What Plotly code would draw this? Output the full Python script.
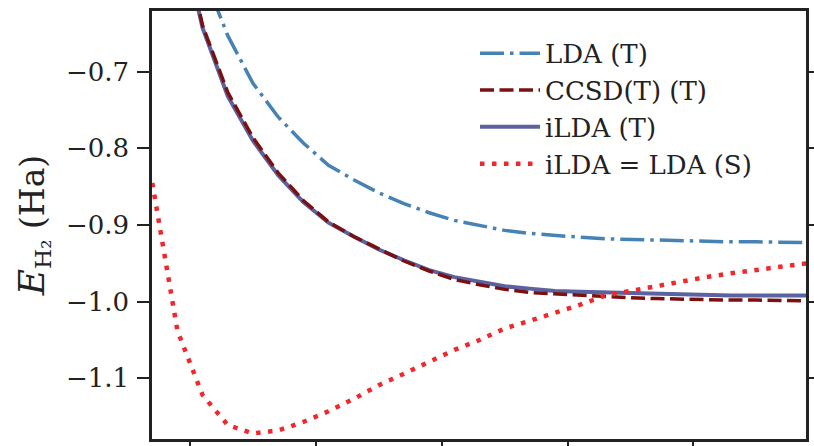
import plotly.graph_objects as go

# Shared bond-length grid (x axis, tick labels not visible in the reference)
r_grid = [0.7, 0.9, 1.1, 1.3, 1.5, 1.7, 1.9, 2.1, 2.3, 2.5, 2.7, 2.9, 3.1, 3.3,
          3.5, 3.7, 3.9, 4.1, 4.3, 4.5, 4.7, 4.9, 5.1, 5.3, 5.5, 5.7, 5.9]

lda_t = [-0.25, -0.45, -0.570, -0.653, -0.715, -0.759, -0.793, -0.822, -0.841,
         -0.858, -0.872, -0.884, -0.894, -0.901, -0.907, -0.911, -0.914, -0.916,
         -0.918, -0.919, -0.920, -0.921, -0.921, -0.922, -0.922, -0.923, -0.923]

ccsd_t = [-0.30, -0.49, -0.640, -0.727, -0.786, -0.832, -0.868, -0.896, -0.915,
          -0.931, -0.947, -0.960, -0.971, -0.978, -0.984, -0.988, -0.990, -0.992,
          -0.994, -0.995, -0.996, -0.997, -0.997, -0.998, -0.998, -0.999, -0.999]

ilda_t = [-0.30, -0.50, -0.643, -0.732, -0.790, -0.835, -0.870, -0.897, -0.915,
          -0.932, -0.946, -0.959, -0.968, -0.974, -0.980, -0.983, -0.986, -0.987,
          -0.988, -0.989, -0.990, -0.991, -0.9915, -0.992, -0.992, -0.992, -0.992]

ilda_lda_s = [-0.845, -1.038, -1.122, -1.161, -1.172, -1.168, -1.157, -1.143, -1.127,
              -1.109, -1.094, -1.078, -1.063, -1.050, -1.035, -1.025, -1.015, -1.004,
              -0.992, -0.986, -0.979, -0.973, -0.968, -0.963, -0.959, -0.954, -0.950]

names = ["LDA (T)", "CCSD(T) (T)", "iLDA (T)", "iLDA = LDA (S)"]
x_ticks = [1, 2, 3, 4, 5]
y_ticks = [-1.1, -1.0, -0.9, -0.8, -0.7]
y_tick_text = ["\u22121.1", "\u22121.0", "\u22120.9", "\u22120.8", "\u22120.7"]

FONT = "DejaVu Serif"
INK = "#222222"

fig = go.Figure()
fig.add_trace(go.Scatter(x=r_grid, y=lda_t, mode="lines", name=names[0], legendrank=1,
                         line=dict(color="#4682b4", width=3.5, dash="24px,6px,3.5px,6px")))
fig.add_trace(go.Scatter(x=r_grid, y=ilda_t, mode="lines", name=names[2], legendrank=3,
                         line=dict(color="#5a62a0", width=4)))
fig.add_trace(go.Scatter(x=r_grid, y=ccsd_t, mode="lines", name=names[1], legendrank=2,
                         line=dict(color="#7a1010", width=3.5, dash="14px,5.5px")))
fig.add_trace(go.Scatter(x=r_grid, y=ilda_lda_s, mode="lines", name=names[3], legendrank=4,
                         line=dict(color="#f0282d", width=4.5, dash="4.5px,7.5px")))

fig.update_layout(
    width=814, height=446,
    margin=dict(l=152, r=8, t=11, b=7),
    paper_bgcolor="white", plot_bgcolor="white",
    font=dict(family=FONT, color=INK, size=25),
    showlegend=True,
    legend=dict(x=(475 - 152) / 654, y=0.956, xanchor="left", yanchor="top",
                itemwidth=60,
                bgcolor="rgba(0,0,0,0)", borderwidth=0,
                font=dict(family=FONT, size=26, color=INK)),
)
fig.update_xaxes(range=[0.698, 5.894], tickvals=x_ticks, showticklabels=False,
                 ticks="outside", ticklen=12, tickwidth=2, tickcolor=INK,
                 showline=True, linewidth=2.5, linecolor=INK, mirror=True,
                 showgrid=False, zeroline=False, automargin=False)
fig.update_yaxes(range=[-1.1792, -0.6208], tickvals=y_ticks, ticktext=y_tick_text,
                 ticks="outside", ticklen=12, tickwidth=2, tickcolor=INK,
                 showline=True, linewidth=2.5, linecolor=INK, mirror="ticks",
                 showgrid=False, zeroline=False, automargin=False,
                 ticklabelstandoff=3,
                 tickfont=dict(family=FONT, size=26, color=INK),
                 title=dict(text="<span style='font-size:36px'><i>E</i></span><sub>H\u2082</sub> (Ha)",
                            standoff=12,
                            font=dict(family=FONT, size=33, color=INK)))

fig.write_html("out.html")
